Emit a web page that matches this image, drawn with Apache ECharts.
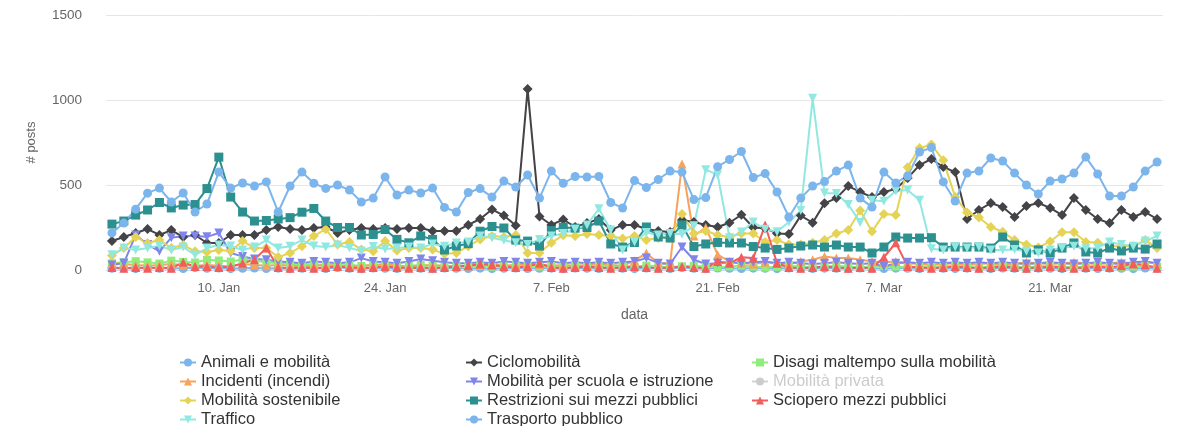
<!DOCTYPE html>
<html>
<head>
<meta charset="utf-8">
<script src="https://cdn.jsdelivr.net/npm/echarts@6/dist/echarts.min.js"></script>
<style>
  html, body { margin: 0; padding: 0; background: #fff; }
  #chart { width: 1177px; height: 426px; }
</style>
</head>
<body>
<div id="chart"></div>
<script>
// days from 1 Jan to 30 Mar
const startDate = new Date(2021, 0, 1);
const dayCount = 89;
const months = ['Jan', 'Feb', 'Mar'];
const categories = [];
for (let i = 0; i < dayCount; i++) {
    let d = new Date(startDate.getTime() + i * 86400000);
    categories.push(d.getDate() + '. ' + months[d.getMonth()]);
}
const tickLabels = ['10. Jan', '24. Jan', '7. Feb', '21. Feb', '7. Mar', '21. Mar'];
const yTicks = [0, 500, 1000, 1500];

const animali = [10,12,8,15,10,12,9,14,10,12,8,10,12,9,11,8,10,12,9,14,10,8,12,10,9,11,10,8,12,10,9,11,8,10,12,9,10,11,8,12,10,9,11,10,8,12,10,9,14,10,8,12,10,9,11,10,8,12,10,9,11,10,8,12,10,9,11,10,8,12,10,9,11,10,8,12,10,9,11,10,8,12,10,9,11,10,8,12,10];
const ciclo = [171,194,218,241,206,235,194,206,159,159,206,206,206,235,253,241,235,247,253,218,235,247,241,247,241,247,247,229,229,229,265,300,356,320,262,1064,315,265,297,253,276,300,235,265,265,241,229,223,294,282,265,253,278,325,250,245,215,212,320,278,392,423,494,459,429,459,476,541,617,653,606,576,300,353,394,370,312,376,394,365,323,423,353,300,276,353,312,341,300];
const disagi = [40,45,52,45,38,55,48,44,60,56,50,62,55,45,40,36,30,34,30,26,31,24,30,27,21,25,30,24,20,26,22,25,19,24,30,26,20,24,21,26,20,23,19,25,21,26,20,16,22,25,19,16,21,26,20,15,19,24,21,16,20,25,19,16,21,24,20,15,21,16,20,24,19,15,21,25,20,16,21,24,19,16,20,25,19,16,20,24,20];
const incidenti = [40,35,30,25,30,35,30,25,30,25,20,35,30,25,30,25,20,25,30,25,20,25,30,35,25,20,25,30,25,20,25,30,35,25,30,40,30,25,30,25,30,35,30,25,55,100,40,40,623,200,250,90,50,40,35,45,40,35,50,60,80,70,70,60,50,45,50,40,35,30,35,40,30,35,40,30,35,45,40,35,40,45,40,35,40,45,40,45,40];
const scuola = [29,41,206,150,110,190,200,200,195,218,100,80,65,60,50,45,40,50,45,40,45,70,50,45,40,50,65,55,45,40,40,45,40,50,45,40,45,50,40,45,40,45,40,45,50,70,40,35,135,60,35,40,45,40,45,50,40,45,40,35,40,45,40,35,40,20,40,45,40,45,40,45,40,45,40,45,40,35,40,45,40,35,40,45,40,35,45,50,40];
const privata = [45,50,42,48,55,40,46,52,44,50,47,43,49,51,45,42,48,50,44,46,52,41,47,49,45,43,50,48,44,46,51,42,47,49,45,43,50,48,44,46,51,42,47,49,45,43,50,48,44,46,51,42,47,49,45,43,50,48,44,46,51,42,47,49,45,43,50,48,44,46,51,42,47,49,45,43,50,48,44,46,51,42,47,49,45,43,50,48,44];
const sostenibile = [85,129,194,159,176,129,147,110,106,118,112,171,129,129,76,100,140,200,240,150,165,120,110,170,115,130,130,120,95,100,140,180,200,194,206,100,100,160,205,200,212,206,200,185,200,176,188,188,330,215,230,206,194,215,215,165,176,150,150,160,176,215,235,350,226,330,323,605,717,738,645,430,338,309,253,225,176,150,132,168,222,222,165,160,140,140,140,176,129];
const restrizioni = [270,288,323,353,397,365,382,385,479,664,429,341,288,291,300,308,340,362,288,250,250,206,209,238,180,160,200,180,118,141,155,228,256,247,176,170,141,232,252,246,250,288,153,135,162,253,194,188,265,138,153,162,159,159,138,129,121,129,141,147,135,147,135,135,100,135,194,188,188,190,135,135,135,135,129,194,147,100,118,100,129,159,106,100,129,112,129,123,153];
const sciopero = [15,10,15,10,15,10,45,20,20,15,20,40,60,130,15,10,15,10,15,20,15,10,15,20,15,10,15,10,15,20,25,35,30,20,15,20,40,15,10,15,20,15,10,15,20,15,10,15,20,15,10,50,40,75,70,265,40,15,10,15,20,15,10,15,10,75,160,20,15,10,15,20,15,10,15,20,15,10,15,20,15,10,15,20,15,25,35,30,10];
const traffico = [90,129,118,129,141,118,135,88,129,147,141,118,135,176,129,140,176,141,135,147,130,112,138,124,129,135,130,153,140,159,165,200,190,175,160,150,180,200,215,240,265,360,235,118,165,220,206,215,210,260,590,560,190,223,282,240,225,282,350,1010,453,450,385,280,410,405,465,470,410,125,118,135,129,135,118,118,120,110,100,118,130,140,125,130,165,150,140,170,200];
const trasporto = [218,276,358,452,482,400,453,341,388,576,482,512,494,518,341,494,576,510,480,500,470,400,423,547,441,470,453,482,368,341,456,479,429,523,488,559,423,582,510,550,547,550,397,365,526,485,532,582,576,414,426,608,650,697,544,567,459,312,423,494,520,582,617,423,370,576,512,553,694,720,518,406,570,582,659,641,570,500,447,523,535,570,664,565,435,435,488,582,635];

const triDown = 'path://M0,0L10,0L5,10Z';
const seriesDefs = [
    { name: 'Animali e mobilità', data: animali, color: '#7cb5ec', symbol: 'circle', size: 9 },
    { name: 'Ciclomobilità', data: ciclo, color: '#434348', symbol: 'diamond', size: 10 },
    { name: 'Disagi maltempo sulla mobilità', data: disagi, color: '#90ed7d', symbol: 'rect', size: 8 },
    { name: 'Incidenti (incendi)', data: incidenti, color: '#f7a35c', symbol: 'triangle', size: 9 },
    { name: 'Mobilità per scuola e istruzione', data: scuola, color: '#8085e9', symbol: triDown, size: 9 },
    { name: 'Mobilità privata', data: privata, color: '#f15c80', symbol: 'circle', size: 9 },
    { name: 'Mobilità sostenibile', data: sostenibile, color: '#e4d354', symbol: 'diamond', size: 10 },
    { name: 'Restrizioni sui mezzi pubblici', data: restrizioni, color: '#2b908f', symbol: 'rect', size: 9 },
    { name: 'Sciopero mezzi pubblici', data: sciopero, color: '#f45b5b', symbol: 'triangle', size: 9 },
    { name: 'Traffico', data: traffico, color: '#91e8e1', symbol: triDown, size: 9 },
    { name: 'Trasporto pubblico', data: trasporto, color: '#7cb5ec', symbol: 'circle', size: 9 }
];

const tickIdx = categories.map((c, i) => tickLabels.indexOf(c) >= 0 ? i : -1).filter(i => i >= 0);
const isTick = (i) => tickIdx.indexOf(i) >= 0;

const font = 'Liberation Sans, Arial, sans-serif';
const legendText = { color: '#333', fontSize: 16.5, fontFamily: font };
function legendCol(names, left) {
    return {
        orient: 'vertical', left: left, top: 354, height: 100,
        padding: 0,
        itemWidth: 16, itemHeight: 10, itemGap: 2,
        textStyle: legendText, inactiveColor: '#ccc',
        selected: { 'Mobilità privata': false },
        data: names
    };
}

const chart = echarts.init(document.getElementById('chart'), null, { renderer: 'canvas' });
chart.setOption({
    animation: false,
    textStyle: { fontFamily: font },
    grid: { left: 106, right: 14, top: 15, bottom: 156 },
    legend: [
        legendCol(['Animali e mobilità', 'Incidenti (incendi)', 'Mobilità sostenibile', 'Traffico'], 179),
        legendCol(['Ciclomobilità', 'Mobilità per scuola e istruzione', 'Restrizioni sui mezzi pubblici', 'Trasporto pubblico'], 465),
        legendCol(['Disagi maltempo sulla mobilità', 'Mobilità privata', 'Sciopero mezzi pubblici'], 751)
    ],
    xAxis: {
        type: 'category',
        data: categories,
        boundaryGap: true,
        name: 'data',
        nameLocation: 'middle',
        nameGap: 38,
        nameTextStyle: { color: '#666', fontSize: 14, fontFamily: font },
        axisLine: { lineStyle: { color: '#ccd6eb' } },
        axisTick: { alignWithLabel: true, length: 10, interval: (i) => isTick(i), lineStyle: { color: '#ccd6eb' } },
        axisLabel: { interval: (i) => isTick(i), color: '#666', fontSize: 13, margin: 12, fontFamily: font }
    },
    yAxis: {
        type: 'value',
        min: yTicks[0],
        max: yTicks[yTicks.length - 1],
        interval: 500,
        name: '# posts',
        nameLocation: 'middle',
        nameGap: 68,
        nameTextStyle: { color: '#666', fontSize: 13, fontFamily: font },
        axisLine: { show: false },
        axisTick: { show: false },
        axisLabel: { color: '#666', fontSize: 13.5, margin: 24, fontFamily: font, formatter: (v) => String(v) },
        splitLine: { lineStyle: { color: '#e6e6e6' } }
    },
    series: seriesDefs.map(s => ({
        name: s.name,
        type: 'line',
        data: s.data,
        symbol: s.symbol,
        symbolSize: s.size,
        showAllSymbol: true,
        color: s.color,
        lineStyle: { width: 2, color: s.color },
        itemStyle: { color: s.color }
    }))
});
</script>
</body>
</html>
